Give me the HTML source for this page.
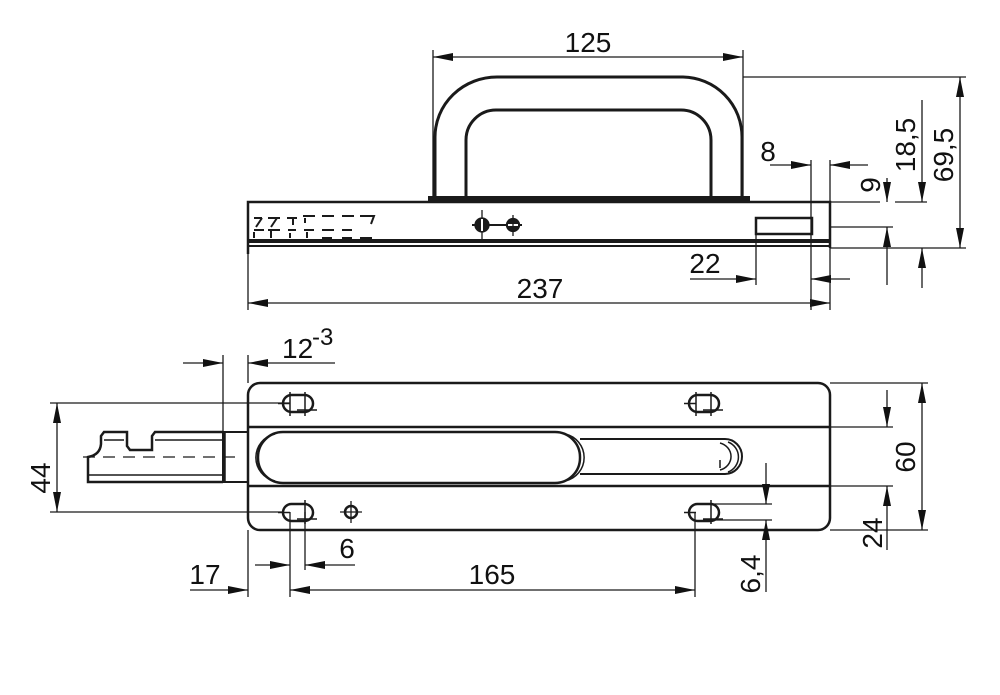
<!DOCTYPE html>
<html><head><meta charset="utf-8"><style>
html,body{margin:0;padding:0;background:#fff}
svg{display:block}
text{font-family:"Liberation Sans Narrow","Liberation Sans",sans-serif;font-size:28px;fill:#111;font-stretch:condensed}
</style></head><body>
<svg width="1000" height="695" viewBox="0 0 1000 695" xmlns="http://www.w3.org/2000/svg">
<defs>
<marker id="a" viewBox="0 0 20 8" refX="20" refY="4" markerWidth="20" markerHeight="8" markerUnits="userSpaceOnUse" orient="auto-start-reverse"><path d="M0,0 L20,4 L0,8 z" fill="#111"/></marker>
</defs>
<g fill="none" stroke="#1a1a1a" stroke-width="1.3">
<path d="M435,198 V137 A62,60 0 0 1 497,77 H683 A60,60 0 0 1 742,137 V198" stroke-width="3"/>
<path d="M466,198 V140 A30,30 0 0 1 496,110 H681 A30,30 0 0 1 711,140 V198" stroke-width="3"/>
<rect x="428" y="196" width="322" height="6" fill="#1a1a1a" stroke="none"/>
<path d="M248,254 V202 H830 V248" stroke-width="2.5"/>
<rect x="248" y="239" width="582" height="4" fill="#1a1a1a" stroke="none"/>
<line x1="248" y1="246" x2="830" y2="246" stroke-width="2"/>
<rect x="756" y="218" width="56" height="16" stroke-width="2.5"/>
<g stroke-width="2">
<path d="M254,218 h8 M256,227 l6,-9 M254,230 h10 M254,238 v-6"/>
<path d="M268,218 h12 M271,227 l6,-9 M268,230 h12 M271,238 v-8"/>
<path d="M287,218 h10 M293,225 v-6 M288,230 h8 M290,238 v-5"/>
<path d="M303,216 h12 M305,223 v-5 M304,230 h10 M307,238 v-6"/>
<path d="M322,216 h12 M322,230 h12 M322,238 h10"/>
<path d="M342,216 h12 M342,230 h10 M342,238 h10"/>
<path d="M360,216 h14 l-3,8 M360,238 h12"/>
</g>
<line x1="482" y1="210" x2="482" y2="240"/>
<line x1="472" y1="225" x2="522" y2="225" stroke-width="2"/>
<circle cx="482" cy="225" r="7" fill="#1a1a1a"/>
<line x1="482" y1="219" x2="482" y2="231" stroke="#fff" stroke-width="2"/>
<circle cx="513" cy="225" r="6.5" fill="#1a1a1a"/>
<line x1="508" y1="225" x2="518" y2="225" stroke="#fff" stroke-width="2"/>
<line x1="513" y1="215" x2="513" y2="236"/>
<line x1="433" y1="50" x2="433" y2="196"/>
<line x1="743" y1="50" x2="743" y2="196"/>
<line x1="433" y1="57" x2="743" y2="57" marker-start="url(#a)" marker-end="url(#a)"/>
<line x1="248" y1="248" x2="248" y2="310"/>
<line x1="830" y1="248" x2="830" y2="310"/>
<line x1="248" y1="303" x2="830" y2="303" marker-start="url(#a)" marker-end="url(#a)"/>
<line x1="811" y1="160" x2="811" y2="310"/>
<line x1="830" y1="160" x2="830" y2="202"/>
<line x1="770" y1="165" x2="811" y2="165" marker-end="url(#a)"/>
<line x1="868" y1="165" x2="830" y2="165" marker-end="url(#a)"/>
<line x1="756" y1="234" x2="756" y2="285"/>
<line x1="690" y1="279" x2="756" y2="279" marker-end="url(#a)"/>
<line x1="850" y1="279" x2="811" y2="279" marker-end="url(#a)"/>
<line x1="743" y1="77" x2="966" y2="77"/>
<line x1="830" y1="202" x2="880" y2="202"/>
<line x1="895" y1="202" x2="927" y2="202"/>
<line x1="830" y1="227" x2="893" y2="227"/>
<line x1="830" y1="248" x2="966" y2="248"/>
<line x1="887" y1="178" x2="887" y2="202" marker-end="url(#a)"/>
<line x1="887" y1="285" x2="887" y2="227" marker-end="url(#a)"/>
<line x1="922" y1="100" x2="922" y2="202" marker-end="url(#a)"/>
<line x1="922" y1="288" x2="922" y2="248" marker-end="url(#a)"/>
<line x1="960" y1="77" x2="960" y2="248" marker-start="url(#a)" marker-end="url(#a)"/>

<rect x="248" y="383" width="582" height="147" rx="12" stroke-width="2.5"/>
<line x1="248" y1="427" x2="830" y2="427" stroke-width="2.5"/>
<line x1="248" y1="486" x2="830" y2="486" stroke-width="2.5"/>
<path d="M580,439 H725 A17,17.5 0 0 1 725,474 H580" stroke-width="2"/>
<path d="M728,442 A16,16 0 0 1 728,472 M720,443 A15,14 0 0 1 720,470 M720,460 v8" stroke-width="1.5"/>
<rect x="258" y="432" width="322" height="51" rx="25" stroke-width="2.5"/>
<path d="M275,434 A24,24 0 0 0 275,481 M565,434 A24,24 0 0 1 565,481" stroke-width="1.5"/>
<rect x="223" y="432" width="25" height="50" stroke-width="2"/>
<line x1="224" y1="432" x2="224" y2="482" stroke-width="3.5"/>
<path d="M223,432 H155 L152,436 V450 H130 L127,446 V432 H104 L101,436 V444 Q100,455 88,457 V482 H223" stroke-width="2.5"/>
<line x1="104" y1="440" x2="124" y2="440" stroke-width="1.5"/>
<line x1="155" y1="440" x2="222" y2="440" stroke-width="1.5"/>
<line x1="88" y1="475" x2="222" y2="475" stroke-width="1.5"/>
<line x1="83" y1="457" x2="235" y2="457" stroke-dasharray="12,8"/>
<g stroke-width="2.5">
<rect x="283" y="395" width="30" height="17" rx="8.5"/>
<rect x="689" y="395" width="30" height="17" rx="8.5"/>
<rect x="283" y="504" width="30" height="17" rx="8.5"/>
<rect x="689" y="504" width="30" height="17" rx="8.5"/>
</g>
<g stroke-width="1.5">
<path d="M278,403.5 h12 M297,410 h20 M290,392 v24 M305,392 v24"/>
<path d="M684,403.5 h12 M703,410 h20 M696,392 v24 M711,392 v24"/>
<path d="M278,512.5 h12 M297,519 h20 M305,500 v24"/>
<path d="M684,512.5 h12 M703,519 h20 M711,500 v24"/>
</g>
<circle cx="351" cy="512" r="6" stroke-width="2.5"/>
<path d="M340,512 h22 M351,501 v22"/>
<line x1="50" y1="403" x2="290" y2="403"/>
<line x1="50" y1="512" x2="283" y2="512"/>
<line x1="57" y1="403" x2="57" y2="512" marker-start="url(#a)" marker-end="url(#a)"/>
<line x1="223" y1="355" x2="223" y2="432"/>
<line x1="248" y1="355" x2="248" y2="383"/>
<line x1="183" y1="363" x2="223" y2="363" marker-end="url(#a)"/>
<line x1="335" y1="363" x2="248" y2="363" marker-end="url(#a)"/>
<line x1="830" y1="383" x2="928" y2="383"/>
<line x1="830" y1="530" x2="928" y2="530"/>
<line x1="830" y1="427" x2="893" y2="427"/>
<line x1="830" y1="486" x2="893" y2="486"/>
<line x1="922" y1="383" x2="922" y2="530" marker-start="url(#a)" marker-end="url(#a)"/>
<line x1="887" y1="390" x2="887" y2="427" marker-end="url(#a)"/>
<line x1="887" y1="550" x2="887" y2="486" marker-end="url(#a)"/>
<line x1="703" y1="504" x2="772" y2="504"/>
<line x1="703" y1="520" x2="772" y2="520"/>
<line x1="766" y1="463" x2="766" y2="504" marker-end="url(#a)"/>
<line x1="766" y1="592" x2="766" y2="520" marker-end="url(#a)"/>
<line x1="248" y1="530" x2="248" y2="597"/>
<line x1="290" y1="512" x2="290" y2="597"/>
<line x1="305" y1="512" x2="305" y2="570"/>
<line x1="695" y1="512" x2="695" y2="597"/>
<line x1="190" y1="590" x2="248" y2="590" marker-end="url(#a)"/>
<line x1="290" y1="590" x2="695" y2="590" marker-start="url(#a)" marker-end="url(#a)"/>
<line x1="255" y1="565" x2="290" y2="565" marker-end="url(#a)"/>
<line x1="355" y1="565" x2="305" y2="565" marker-end="url(#a)"/>
</g>
<text x="588" y="52" text-anchor="middle">125</text>
<text x="540" y="298" text-anchor="middle">237</text>
<text x="768" y="161" text-anchor="middle">8</text>
<text x="705" y="273" text-anchor="middle">22</text>
<text transform="translate(880,185) rotate(-90)" text-anchor="middle">9</text>
<text transform="translate(915,145) rotate(-90)" text-anchor="middle">18,5</text>
<text transform="translate(953,155) rotate(-90)" text-anchor="middle">69,5</text>
<text x="282" y="358">12</text><text x="312" y="345" style="font-size:24px">-3</text>
<text transform="translate(50,478) rotate(-90)" text-anchor="middle">44</text>
<text transform="translate(915,457) rotate(-90)" text-anchor="middle">60</text>
<text transform="translate(882,533) rotate(-90)" text-anchor="middle">24</text>
<text transform="translate(760,574) rotate(-90)" text-anchor="middle">6,4</text>
<text x="347" y="558" text-anchor="middle">6</text>
<text x="205" y="584" text-anchor="middle">17</text>
<text x="492" y="584" text-anchor="middle">165</text>
</svg>
</body></html>
